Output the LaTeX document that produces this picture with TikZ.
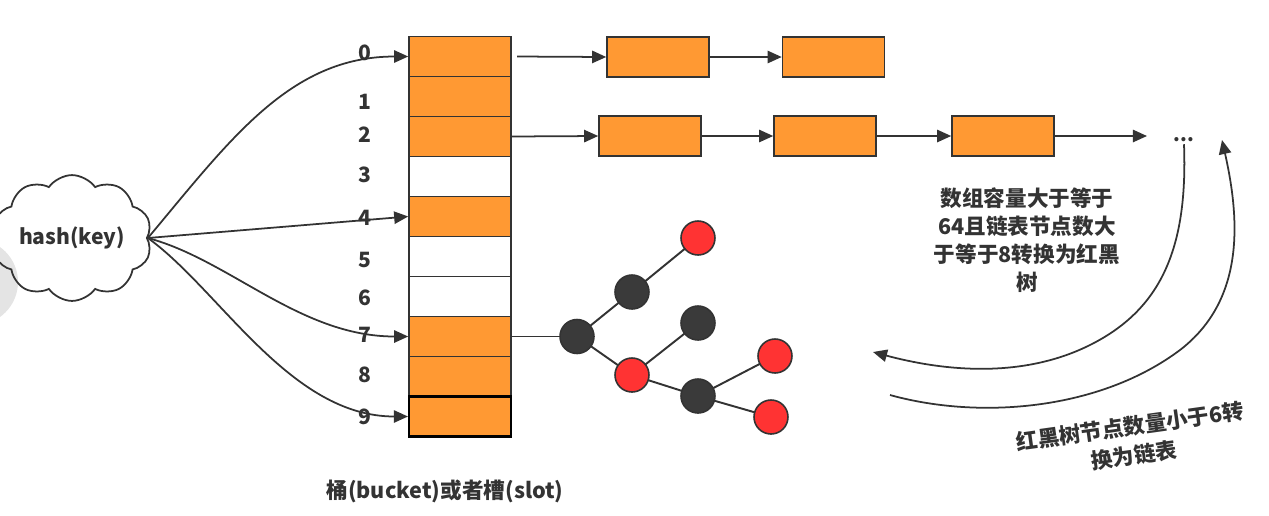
\documentclass[tikz,border=0pt]{standalone}
\usepackage{fontspec}
\setmainfont{Noto Sans CJK SC}
\usetikzlibrary{arrows.meta,shapes.symbols}
\definecolor{org}{HTML}{FF9933}
\definecolor{ln}{HTML}{333333}
\definecolor{rd}{HTML}{FF3333}
\definecolor{dk}{HTML}{3A3A3A}
\definecolor{txt}{HTML}{333333}
\definecolor{ghost}{HTML}{E4E4E4}
\begin{document}
\begin{tikzpicture}[x=0.02cm,y=-0.02cm,
  cell/.style={draw=ln, line width=0.9pt, minimum width=2.04cm, minimum height=0.8cm, inner sep=0pt, fill=org},
  emptycell/.style={cell, fill=white},
  listbox/.style={cell},
  lbl/.style={font=\fontsize{12pt}{13pt}\selectfont\bfseries, text=txt, inner sep=0pt},
  note/.style={font=\fontsize{12.3pt}{16.5pt}\selectfont\bfseries, text=txt, align=center, inner sep=0pt},
  conn/.style={draw=ln, line width=1pt, -{Triangle[length=8pt,width=7pt]}},
  rbn/.style={circle, draw=ln, line width=0.9pt, minimum size=0.68cm, inner sep=0pt},
  rednode/.style={rbn, fill=rd},
  blknode/.style={rbn, fill=dk},
  treeedge/.style={draw=ln, line width=1.1pt}
]
\useasboundingbox (0,0) rectangle (1269,515);
\fill[ghost] (-25,282) circle (0.86cm);

% hash cloud
\node[cloud, cloud puffs=10, cloud puff arc=110, aspect=1.4, draw=ln, line width=1pt,
      inner sep=0pt, minimum width=2.9cm, minimum height=2.1cm,
      font=\fontsize{12pt}{14pt}\selectfont\bfseries, text=txt] (hash) at (72,238) {hash(key)};

% bucket array
\node[cell] (r0) at (460,56.5) {};
\node[cell] (r1) at (460,96.5) {};
\node[cell] (r2) at (460,136.5) {};
\node[emptycell] (r3) at (460,176.5) {};
\node[cell] (r4) at (460,216.5) {};
\node[emptycell] (r5) at (460,256.5) {};
\node[emptycell] (r6) at (460,296.5) {};
\node[cell] (r7) at (460,336.5) {};
\node[cell] (r8) at (460,376.5) {};
\node[cell, draw=black, line width=1.2pt] (r9) at (460,416.5) {};

% index labels
\node[lbl] (l0) at (365,53) {0};
\node[lbl] (l1) at (365,102) {1};
\node[lbl] (l2) at (365,135) {2};
\node[lbl] (l3) at (365,175) {3};
\node[lbl] (l4) at (365,218) {4};
\node[lbl] (l5) at (365,260) {5};
\node[lbl] (l6) at (365,298) {6};
\node[lbl] (l7) at (365,335) {7};
\node[lbl] (l8) at (365,375) {8};
\node[lbl] (l9) at (365,417) {9};

% hash arrows
\draw[conn] (hash.east) .. controls (230,140) and (290,56.5) .. (r0.west);
\draw[conn] (hash.east) -- (r4.west);
\draw[conn] (hash.east) .. controls (230,260) and (300,336.5) .. (r7.west);
\draw[conn] (hash.east) .. controls (220,290) and (290,416.5) .. (r9.west);

% chain at 0
\node[listbox] (a1) at (658,57) {};
\node[listbox] (a2) at (833.5,57) {};
\draw[conn] ([xshift=3pt]r0.east) -- (a1.west);
\draw[conn] (a1) -- (a2);

% chain at 2
\node[listbox] (b1) at (650,136) {};
\node[listbox] (b2) at (825,136) {};
\node[listbox] (b3) at (1003,136) {};
\coordinate (bend) at (1147,136);
\draw[conn] (r2.east) -- (b1.west);
\draw[conn] (b1) -- (b2);
\draw[conn] (b2) -- (b3);
\draw[conn] (b3) -- (bend);
\node[font=\fontsize{11pt}{12pt}\selectfont\bfseries, text=txt, inner sep=1pt] (dots) at (1184,140) {...};

% red-black tree
\coordinate (t0) at (577,336.5);
\coordinate (t1) at (632,292);
\coordinate (t2) at (632,375);
\coordinate (t3) at (698,238);
\coordinate (t4) at (698,323);
\coordinate (t5) at (698,396);
\coordinate (t6) at (775,356);
\coordinate (t7) at (771,417);
\draw[treeedge] (r7.east) -- (t0);
\draw[treeedge] (t0) -- (t1) -- (t3);
\draw[treeedge] (t0) -- (t2) -- (t4);
\draw[treeedge] (t2) -- (t5) -- (t6);
\draw[treeedge] (t5) -- (t7);
\node[blknode] (n0) at (t0) {};
\node[blknode] (n1) at (t1) {};
\node[rednode] (n2) at (t2) {};
\node[rednode] (n3) at (t3) {};
\node[blknode] (n4) at (t4) {};
\node[blknode] (n5) at (t5) {};
\node[rednode] (n6) at (t6) {};
\node[rednode] (n7) at (t7) {};

% conversion curves
\coordinate (aend) at (873,352);
\coordinate (bstart) at (890,395);
\coordinate (bendup) at (1222,140);
\draw[conn] (dots.south) .. controls (1188,250) and (1160,310) .. (1090,345)
   .. controls (1020,380) and (940,370) .. (aend);
\draw[conn] (bstart) .. controls (980,420) and (1100,410) .. (1180,350)
   .. controls (1245,300) and (1240,220) .. (bendup);

% notes
\node[note, font=\fontsize{12.3pt}{15.9pt}\selectfont\bfseries] (n1t) at (1027,240) {数组容量大于等于\\64且链表节点数大\\于等于8转换为红黑\\树};
\node[note, rotate=8] (n2t) at (1132,441) {红黑树节点数量小于6转\\换为链表};
\node[note] (btitle) at (445,491) {桶(bucket)或者槽(slot)};
\end{tikzpicture}
\end{document}
